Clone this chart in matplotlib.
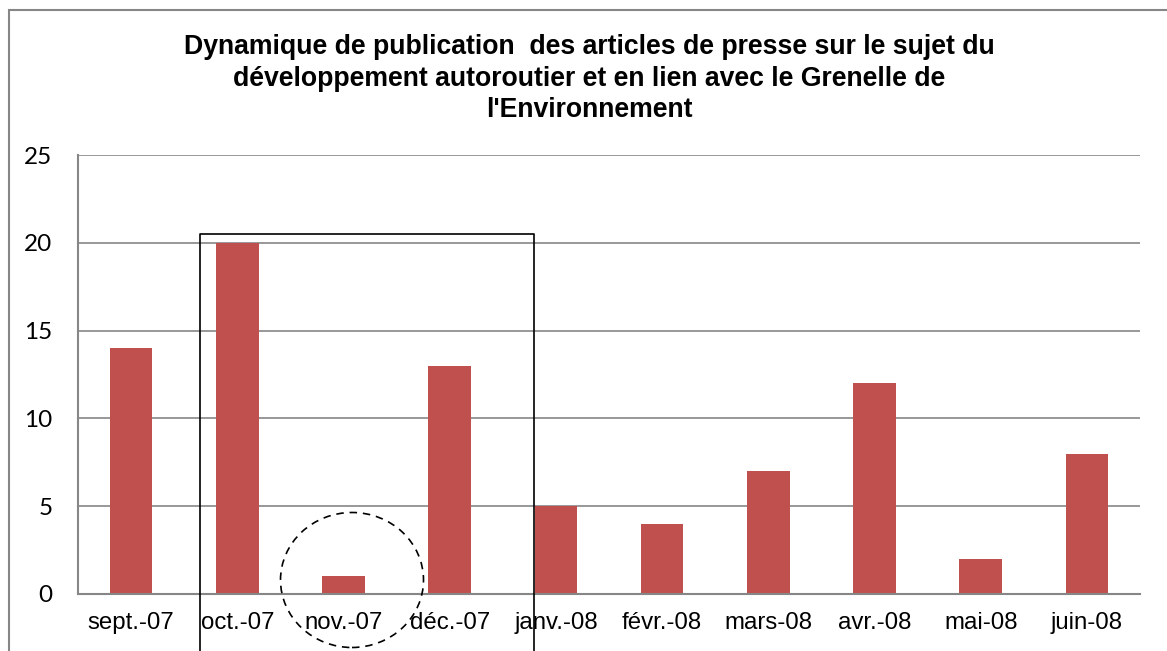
import matplotlib
matplotlib.use('Agg')
import matplotlib.pyplot as plt
from matplotlib.patches import Rectangle, Ellipse
from matplotlib.lines import Line2D

months = ['sept.-07', 'oct.-07', 'nov.-07', 'déc.-07', 'janv.-08',
          'févr.-08', 'mars-08', 'avr.-08', 'mai-08', 'juin-08']
articles = [14, 20, 1, 13, 5, 4, 7, 12, 2, 8]
yticks = [0, 5, 10, 15, 20, 25]
title = ("Dynamique de publication  des articles de presse sur le sujet du\n"
         "développement autoroutier et en lien avec le Grenelle de\n"
         "l'Environnement")

W, H = 1167, 651
fig = plt.figure(figsize=(W / 100, H / 100), dpi=100)


def fx(px):
    return px / W


def fy(py):
    return 1 - py / H


ax = fig.add_axes([fx(78), fy(594), fx(1140) - fx(78), fy(155) - fy(594)])
x = list(range(len(months)))
ax.bar(x, articles, width=0.4, color='#C0504D', zorder=3)
ax.set_xlim(-0.5, len(months) - 0.5)
ax.set_ylim(0, 25)
ax.set_yticks(yticks)
ax.set_yticklabels([str(v) for v in yticks], fontsize=17.5, family='Lato')
ax.set_xticks(x)
ax.set_xticklabels(months, fontsize=17.3, family='Liberation Sans')
ax.tick_params(axis='both', length=0)
ax.tick_params(axis='y', pad=18.5)
ax.tick_params(axis='x', pad=13)
ax.grid(axis='y', color='#868686', linewidth=1.2, zorder=0)
for s in ['top', 'right']:
    ax.spines[s].set_visible(False)
for s in ['left', 'bottom']:
    ax.spines[s].set_color('#868686')
    ax.spines[s].set_linewidth(1.5)
    ax.spines[s].set_zorder(4)

fig.text(fx(589), fy(34), title, ha='center', va='top', fontsize=19.2,
         fontweight='bold', family='Liberation Sans', linespacing=1.28)

# outer chart frame
fig.patches.append(Rectangle((fx(9), fy(700)), fx(1200), fy(10) - fy(700),
                             transform=fig.transFigure, fill=False,
                             edgecolor='#868686', linewidth=1.5))
# highlight box
fig.lines.append(Line2D([fx(200), fx(200), fx(534), fx(534)],
                        [fy(660), fy(234), fy(234), fy(660)],
                        transform=fig.transFigure, color='black', linewidth=1.2))
# dashed circle around nov.-07
fig.patches.append(Ellipse((fx(352), fy(580)), fx(143), fy(0) - fy(135),
                           transform=fig.transFigure, fill=False,
                           edgecolor='black', linewidth=1.2,
                           linestyle=(0, (4.5, 3.5)), zorder=5))

fig.savefig('out.png', dpi=100)
